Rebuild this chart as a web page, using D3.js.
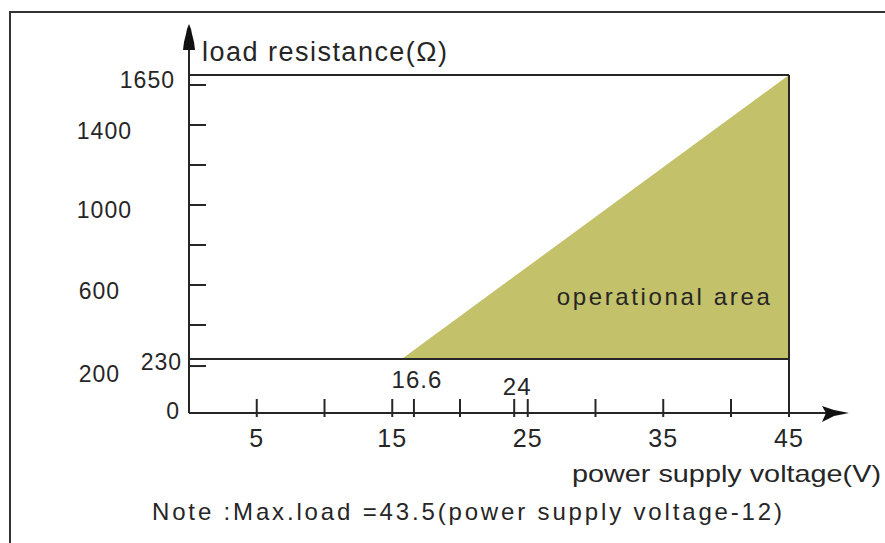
<!DOCTYPE html>
<html><head><meta charset="utf-8">
<script src="https://cdn.jsdelivr.net/npm/d3@7"></script>
<style>html,body{margin:0;padding:0;background:#fff;} svg{display:block;}</style>
</head><body>
<svg id="chart" width="885" height="543"></svg>
<script>
// ---- data ----
const xMajorTicks = [5, 10, 15, 20, 25, 30, 35, 40, 45];
const xTickLabels = [5, 15, 25, 35, 45];
const xMarkedValues = [16.6, 24];
const yMinorTicks = [200, 400, 600, 800, 1000, 1200, 1400, 1600];
const yTickLabels = [1650, 1400, 1000, 600, 200, 230, 0];
const minLoad = 230;
const maxLoad = 1650;
const maxVoltage = 45;
const areaVoltages = [15.7, 45, 45];
const areaLoads = [230, 1650, 230];
const yTitle = "load resistance(\u03A9)";
const xTitle = "power supply voltage(V)";
const areaLabel = "operational area";
const noteText = "Note :Max.load =43.5(power supply voltage-12)";

// ---- layout ----
const FONT = "'Liberation Sans', Arial, sans-serif";
const INK = "#262626";
const svg = d3.select("#chart");
const x = d3.scaleLinear().domain([0, 40, 45]).range([189, 731, 789]);
const y = d3.scaleLinear().domain([0, 230, 1650]).range([413, 359, 75]);
const yLabelLayout = {
  1650: {endX: 175, dy: 13}, 1400: {endX: 132, dy: 14}, 1000: {endX: 132, dy: 13},
  600: {endX: 120, dy: 14}, 200: {endX: 120, dy: 16}, 230: {endX: 182, dy: 11}, 0: {endX: 180, dy: 6}
};
const markedLayout = {16.6: {dx: 3, dy: -25}, 24: {dx: 3, dy: -18}};

// outer frame (partially visible)
svg.append("path").attr("d", "M10,543V12H885")
  .attr("fill", "none").attr("stroke", "#333").attr("stroke-width", 2);

// operational area
const area = d3.line().x(d => x(d[0])).y(d => y(d[1]));
svg.append("path")
  .attr("d", area(areaVoltages.map((v, i) => [v, areaLoads[i]])) + "Z")
  .attr("fill", "#c3c16a").attr("stroke", "none");

// frame lines of the chart region
const g = svg.append("g").attr("stroke", INK).attr("stroke-width", 2).attr("fill", "none");
g.append("line").attr("x1", x(0)).attr("x2", x(maxVoltage)).attr("y1", y(maxLoad)).attr("y2", y(maxLoad));
g.append("line").attr("x1", x(0)).attr("x2", x(maxVoltage)).attr("y1", y(minLoad)).attr("y2", y(minLoad));
g.append("line").attr("x1", x(maxVoltage)).attr("x2", x(maxVoltage)).attr("y1", y(0)).attr("y2", y(maxLoad));

// axes
g.append("line").attr("x1", x(0)).attr("x2", x(0)).attr("y1", y(0)).attr("y2", 36);
g.append("line").attr("x1", x(0)).attr("x2", 828).attr("y1", y(0)).attr("y2", y(0));

// y axis arrow
const ax = x(0);
svg.append("path")
  .attr("d", `M${ax},24L${ax+2},29L${ax+3},34L${ax+5},42L${ax+6},50L${ax-6},50L${ax-5},42L${ax-3},34L${ax-2},29Z`)
  .attr("fill", "#111");
// x axis arrow
const ay = y(0);
svg.append("path")
  .attr("d", `M822,${ay-7}L834,${ay-3}L849,${ay}L834,${ay+3}L822,${ay+9}L826,${ay}Z`)
  .attr("fill", "#111");

// y ticks
g.selectAll(".yt").data(yMinorTicks).enter().append("line")
  .attr("x1", x(0) - 1).attr("x2", x(0) + 17)
  .attr("y1", d => y(d)).attr("y2", d => y(d));

// x ticks
g.selectAll(".xt").data(xMajorTicks.concat(xMarkedValues)).enter().append("line")
  .attr("x1", d => x(d)).attr("x2", d => x(d))
  .attr("y1", y(0) + 4).attr("y2", y(0) - 14);

const txt = svg.append("g").attr("fill", INK).attr("font-family", FONT);

// y labels
txt.selectAll(".yl").data(yTickLabels).enter().append("text")
  .attr("x", d => yLabelLayout[d].endX).attr("y", d => y(d) + yLabelLayout[d].dy)
  .attr("text-anchor", "end").attr("font-size", 23).attr("letter-spacing", 1)
  .text(d => d);

// x labels
txt.selectAll(".xl").data(xTickLabels).enter().append("text")
  .attr("x", d => x(d)).attr("y", y(0) + 34)
  .attr("text-anchor", "middle").attr("font-size", 25).attr("letter-spacing", 1)
  .text(d => d);

// marked voltages
txt.selectAll(".ml").data(xMarkedValues).enter().append("text")
  .attr("x", d => x(d) + markedLayout[d].dx).attr("y", d => y(0) + markedLayout[d].dy)
  .attr("text-anchor", "middle").attr("font-size", 24).attr("letter-spacing", 1)
  .text(d => d);

// titles
txt.append("text").attr("x", 202).attr("y", 61).attr("font-size", 27)
  .attr("textLength", 245).attr("lengthAdjust", "spacing").text(yTitle);
txt.append("text").attr("x", 572).attr("y", 482).attr("font-size", 24)
  .attr("textLength", 309).attr("lengthAdjust", "spacingAndGlyphs").text(xTitle);
txt.append("text").attr("x", x(35)).attr("y", y(545) + 9).attr("text-anchor", "middle")
  .attr("font-size", 24).attr("textLength", 213).attr("lengthAdjust", "spacing").text(areaLabel);
txt.append("text").attr("x", 152).attr("y", 520).attr("font-size", 24)
  .attr("textLength", 630).attr("lengthAdjust", "spacing").text(noteText);
</script>
</body></html>
